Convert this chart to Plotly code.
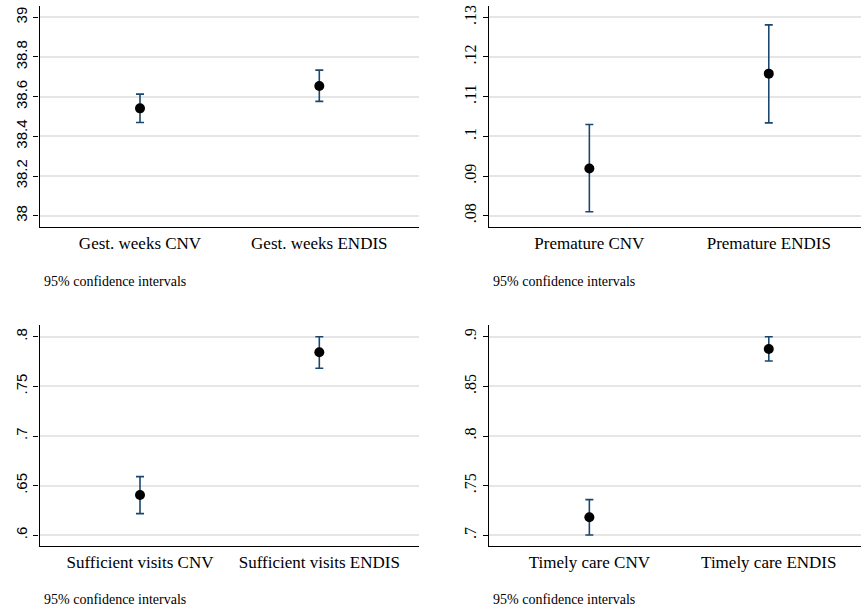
import plotly.graph_objects as go

# ---- data ----
gest_labels = ["Gest. weeks CNV", "Gest. weeks ENDIS"]
gest_mean = [38.541, 38.654]
gest_lo = [38.470, 38.576]
gest_hi = [38.613, 38.734]

prem_labels = ["Premature CNV", "Premature ENDIS"]
prem_mean = [0.0919, 0.1158]
prem_lo = [0.0810, 0.1034]
prem_hi = [0.1030, 0.1281]

visits_labels = ["Sufficient visits CNV", "Sufficient visits ENDIS"]
visits_mean = [0.6406, 0.7843]
visits_lo = [0.6218, 0.7682]
visits_hi = [0.6591, 0.8000]

timely_labels = ["Timely care CNV", "Timely care ENDIS"]
timely_mean = [0.7182, 0.8876]
timely_lo = [0.7003, 0.8755]
timely_hi = [0.7359, 0.9000]

gest_ticks = [38, 38.2, 38.4, 38.6, 38.8, 39]
gest_ticktext = ["38", "38.2", "38.4", "38.6", "38.8", "39"]
prem_ticks = [0.08, 0.09, 0.10, 0.11, 0.12, 0.13]
prem_ticktext = [".08", ".09", ".1", ".11", ".12", ".13"]
visits_ticks = [0.6, 0.65, 0.7, 0.75, 0.8]
visits_ticktext = [".6", ".65", ".7", ".75", ".8"]
timely_ticks = [0.7, 0.75, 0.8, 0.85, 0.9]
timely_ticktext = [".7", ".75", ".8", ".85", ".9"]

note = "95% confidence intervals"

W, H = 861, 606
SERIF = "Liberation Serif, Times New Roman, serif"
SANS = "Liberation Sans, Arial, sans-serif"

panels = [
    dict(labels=gest_labels, mean=gest_mean, lo=gest_lo, hi=gest_hi,
         ticks=gest_ticks, ticktext=gest_ticktext,
         xdom=(39.5, 419), ydom=(6, 227), yr=(37.943, 39.057), xr=(0.4395, 2.556),
         tfont=SANS, tsize=15, notey=281),
    dict(labels=prem_labels, mean=prem_mean, lo=prem_lo, hi=prem_hi,
         ticks=prem_ticks, ticktext=prem_ticktext,
         xdom=(488.7, 861), ydom=(6, 227), yr=(0.07715, 0.13285), xr=(0.439, 2.514),
         tfont=SERIF, tsize=16, notey=281),
    dict(labels=visits_labels, mean=visits_mean, lo=visits_lo, hi=visits_hi,
         ticks=visits_ticks, ticktext=visits_ticktext,
         xdom=(39.5, 419), ydom=(325, 546), yr=(0.5892, 0.8118), xr=(0.4395, 2.556),
         tfont=SANS, tsize=15, notey=599),
    dict(labels=timely_labels, mean=timely_mean, lo=timely_lo, hi=timely_hi,
         ticks=timely_ticks, ticktext=timely_ticktext,
         xdom=(488.7, 861), ydom=(325, 546), yr=(0.6892, 0.9118), xr=(0.439, 2.514),
         tfont=SERIF, tsize=16, notey=599),
]

fig = go.Figure()
layout = dict(
    width=W, height=H, margin=dict(l=0, r=0, t=0, b=0, autoexpand=False),
    paper_bgcolor="white", plot_bgcolor="white", showlegend=False,
)
annotations = []
for i, p in enumerate(panels, start=1):
    xa = "x" if i == 1 else f"x{i}"
    ya = "y" if i == 1 else f"y{i}"
    xs = [1, 2]
    fig.add_trace(go.Scatter(
        x=xs, y=p["mean"], mode="markers", xaxis=xa, yaxis=ya,
        marker=dict(color="black", size=10),
        error_y=dict(type="data", symmetric=False,
                     array=[h - m for h, m in zip(p["hi"], p["mean"])],
                     arrayminus=[m - l for m, l in zip(p["mean"], p["lo"])],
                     color="#1a476f", thickness=1.6, width=4),
        cliponaxis=False,
    ))
    x0, x1 = p["xdom"]
    y0, y1 = p["ydom"]
    layout["xaxis" if i == 1 else f"xaxis{i}"] = dict(
        domain=[x0 / W, x1 / W], range=list(p["xr"]), anchor=ya, automargin=False,
        tickvals=xs, ticktext=p["labels"], showgrid=False, zeroline=False,
        showline=True, linecolor="black", linewidth=1.2, ticks="",
        tickfont=dict(family=SERIF, size=17, color="black"),
    )
    layout["yaxis" if i == 1 else f"yaxis{i}"] = dict(
        domain=[1 - y1 / H, 1 - y0 / H], range=list(p["yr"]), anchor=xa, automargin=False,
        tickvals=p["ticks"], ticktext=p["ticktext"], tickangle=-90,
        showgrid=True, gridcolor="#e6e6e6", gridwidth=1.5, zeroline=False,
        showline=True, linecolor="black", linewidth=1.2,
        ticks="outside", ticklen=5, tickcolor="black", tickwidth=1.2,
        tickfont=dict(family=p["tfont"], size=p["tsize"], color="black"),
    )
    annotations.append(dict(
        text=note, xref="paper", yref="paper", x=(x0 + 2) / W, y=1 - p["notey"] / H,
        xanchor="left", yanchor="middle", showarrow=False,
        font=dict(family=SERIF, size=14, color="black"),
    ))
layout["annotations"] = annotations
fig.update_layout(**layout)
fig.write_html(
    "out.html",
    config={"displayModeBar": False},
    post_script="document.body.style.margin='0';document.body.style.overflow='hidden';",
)
